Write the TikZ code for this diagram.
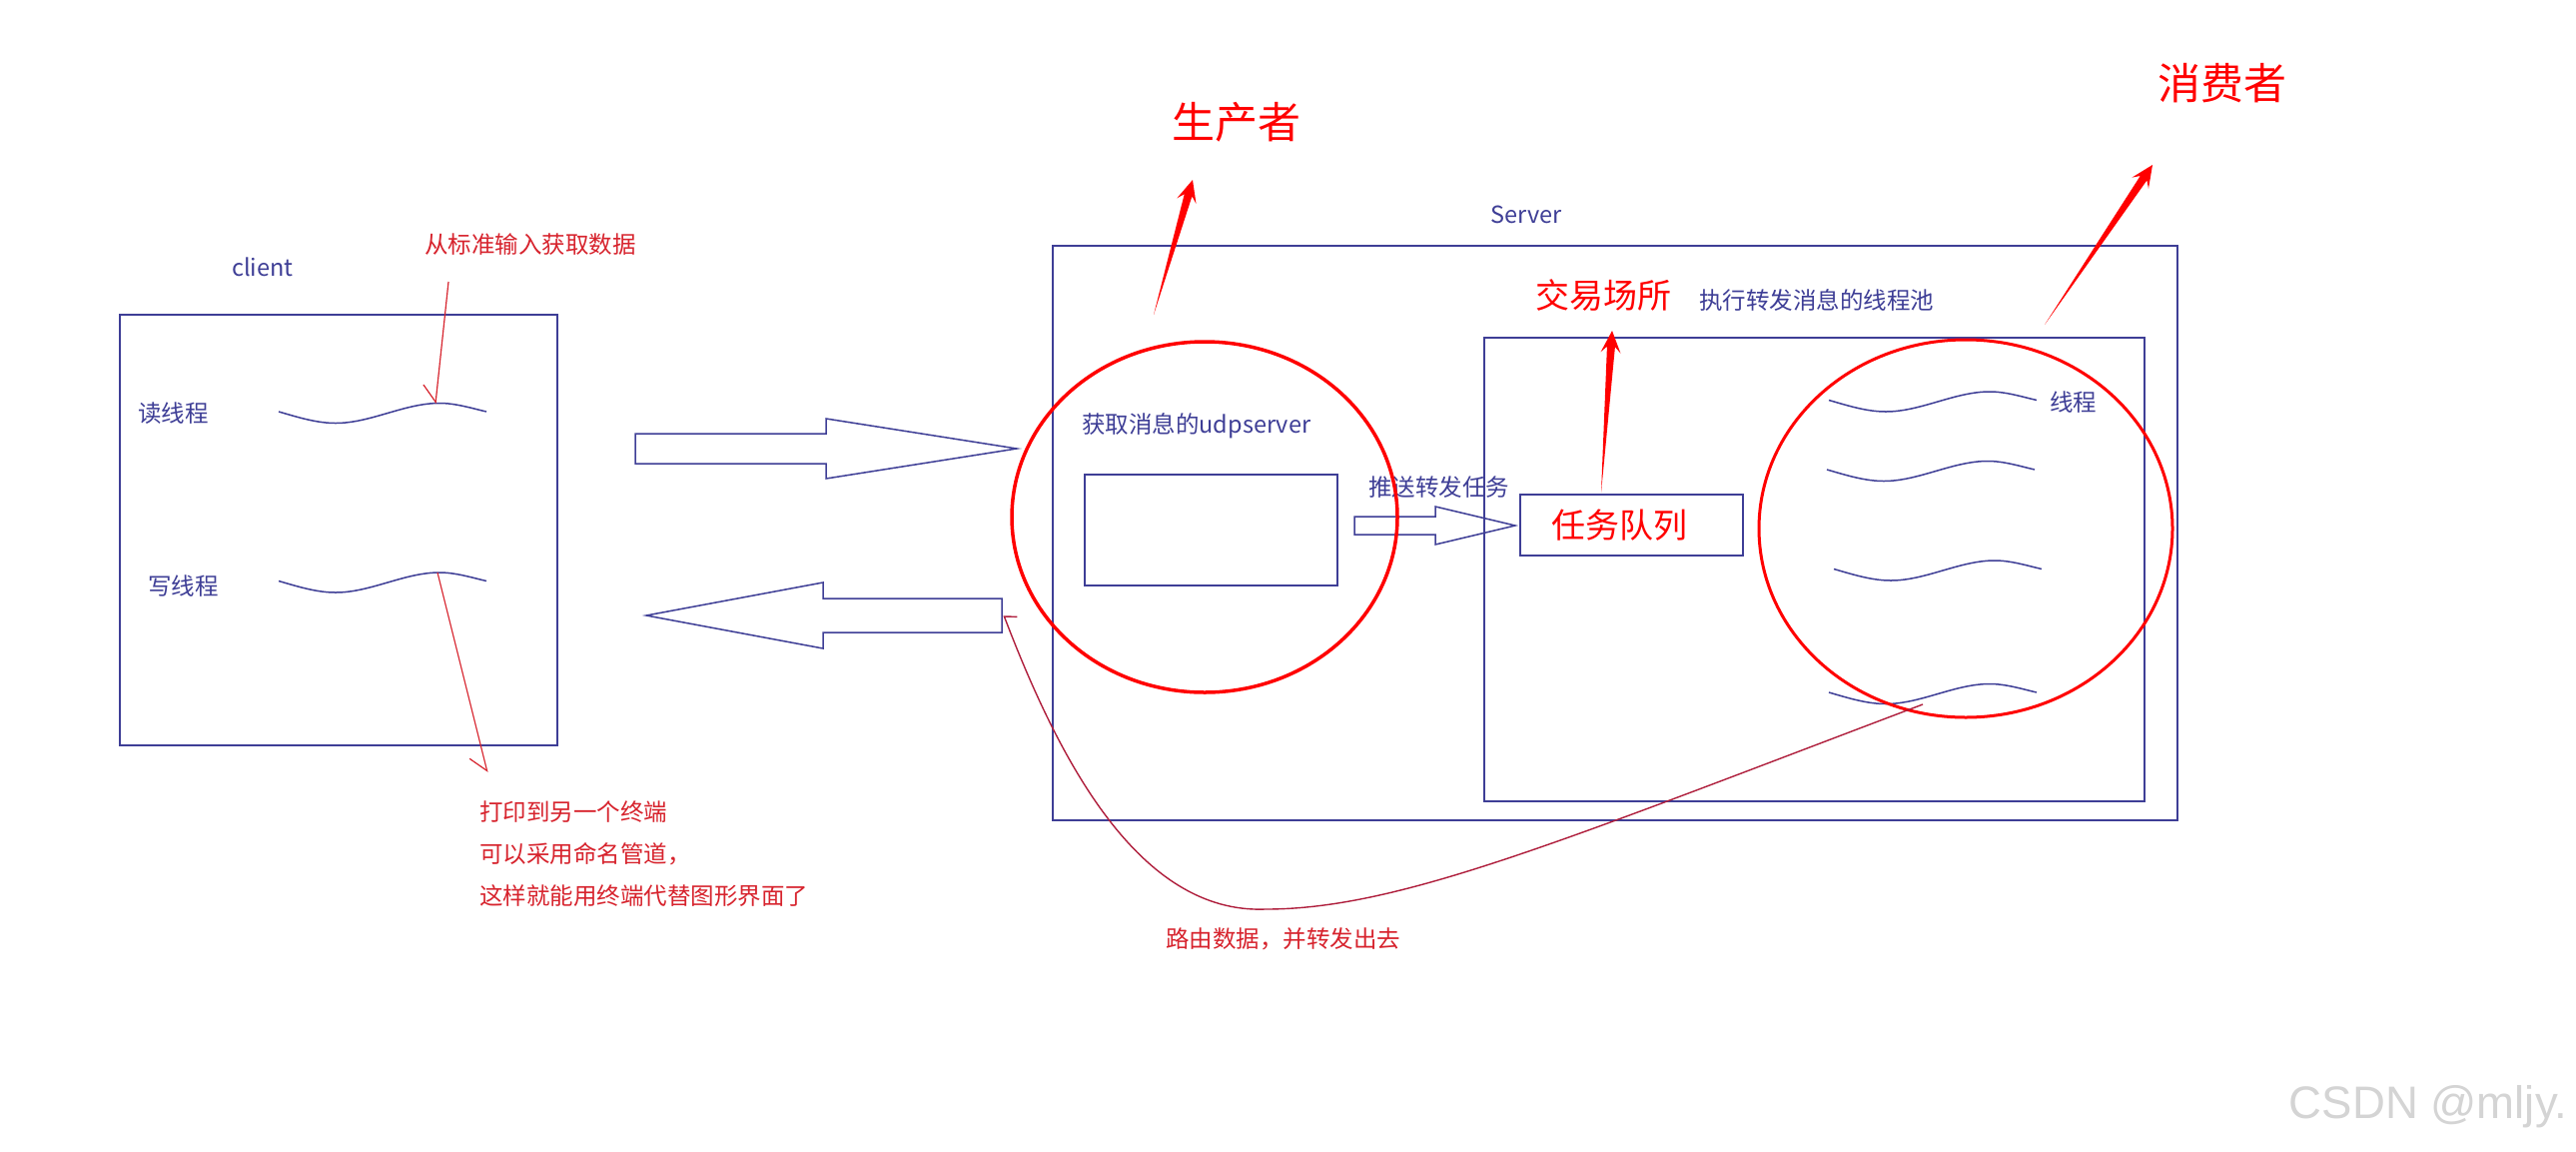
\documentclass[tikz,border=0pt]{standalone}
\usepackage{fontspec}
\setmainfont{Noto Sans CJK SC}
\newfontfamily\wmfont{Liberation Sans}
\usetikzlibrary{calc,arrows.meta,shapes.geometric}
\definecolor{bl}{RGB}{62,62,150}
\definecolor{rd}{RGB}{215,35,45}
\definecolor{rt}{RGB}{175,30,60}
\definecolor{wm}{RGB}{212,212,212}
\newcommand\myfs[1]{\fontsize{#1}{#1}\selectfont}
\newcommand\mywave[2]{\draw[wave] ({#1},{#2-1.5}) .. controls ({#1+19},{#2+4}) and ({#1+38},{#2+10}) .. ({#1+57},{#2+10})
   .. controls ({#1+92},{#2+10}) and ({#1+126},{#2-10}) .. ({#1+161},{#2-10})
   .. controls ({#1+177},{#2-10}) and ({#1+193},{#2-5}) .. ({#1+208},{#2-1.5});}
\newcommand\taper[2]{%
  \path ($(#2)!22pt!(#1)$) coordinate (hb) ($(#2)!16pt!(#1)$) coordinate (hn);
  \fill[red] (#1) -- ($(hn)!4pt!90:(#2)$) -- ($(hb)!10pt!90:(#2)$) -- (#2)
    -- ($(hb)!10pt!-90:(#2)$) -- ($(hn)!4pt!-90:(#2)$) -- cycle;}
\tikzset{
  box/.style={draw=bl, line width=1.5pt, inner sep=0pt, outer sep=0pt},
  bt/.style={text=bl, font=\myfs{23.5}, inner sep=0pt},
  rtx/.style={text=rd, font=\myfs{23.5}, inner sep=0pt},
  big/.style={text=red, font=\myfs{43}, inner sep=0pt},
  mid/.style={text=red, font=\myfs{34}, inner sep=0pt},
  wave/.style={draw=bl, line width=1.5pt},
  fat/.style={draw=bl, line width=1.5pt, fill=white, line join=miter},
  ring/.style={draw=red, ellipse, inner sep=0pt, outer sep=0pt},
  note/.style={draw=rd, line width=1.2pt},
  route/.style={draw=rt, line width=1.4pt}
}
\begin{document}
\begin{tikzpicture}[x=1pt,y=-1pt]
\useasboundingbox (0,0) rectangle (2579,1152);
\fill[white] (0,0) rectangle (2579,1152);

% client side
\node[bt] (clientlbl) at (263,267) {client};
\node[box, minimum width=438pt, minimum height=431pt] (client) at (339,530.5) {};
\node[bt, anchor=west] (readlbl) at (138,414) {读线程};
\node[bt, anchor=west] (writelbl) at (148,587) {写线程};
\mywave{279}{413.5}
\mywave{279}{583}
\node[rtx, anchor=west] (stdinlbl) at (425,245) {从标准输入获取数据};
\node[rtx, anchor=west, align=left, font=\fontsize{23.5}{42}\selectfont] (printlbl) at (480,855)
  {打印到另一个终端\\可以采用命名管道，\\这样就能用终端代替图形界面了};
\coordinate (rdS) at (449,282); \coordinate (rdT) at (436,404);
\coordinate (wrS) at (438,573); \coordinate (wrT) at (488,773);
\draw[note, -{Straight Barb[length=16pt,width=28pt,right]}] (rdS) -- (rdT);
\draw[note, -{Straight Barb[length=16pt,width=28pt,right]}] (wrS) -- (wrT);

% big hollow arrows
\draw[fat] (636,434) -- (827,434) -- (827,419) -- (1018,449) -- (827,479) -- (827,464) -- (636,464) -- cycle;
\draw[fat] (1003,599) -- (824,599) -- (824,583) -- (647,616) -- (824,649) -- (824,633) -- (1003,633) -- cycle;

% server
\node[bt] (serverlbl) at (1528,215) {Server};
\node[box, minimum width=1126pt, minimum height=575pt] (server) at (1617,533.5) {};
\node[bt, anchor=west] (udplbl) at (1083,426) {获取消息的udpserver};
\node[box, minimum width=253pt, minimum height=111pt] (udp) at (1212.5,530.5) {};
\node[bt, anchor=west] (pushlbl) at (1370,488) {推送转发任务};
\draw[fat] (1356,517) -- (1437,517) -- (1437,507) -- (1517,526) -- (1437,545) -- (1437,535) -- (1356,535) -- cycle;
\node[box, minimum width=661pt, minimum height=464pt] (pool) at (1816.5,570) {};
\node[box, minimum width=223pt, minimum height=61pt] (queue) at (1633.5,525.5) {};
\node[mid] (queuelbl) at (1621.5,526) {任务队列};
\node[mid, anchor=west] (marketlbl) at (1537,296) {交易场所};
\node[bt, anchor=west] (poollbl) at (1701,300) {执行转发消息的线程池};
\node[bt, anchor=west] (threadlbl) at (2052,403) {线程};
\mywave{1831}{402}
\mywave{1829}{471.5}
\mywave{1836}{571}
\mywave{1831}{694.5}

% rings
\node[ring, line width=3.5pt, minimum width=386pt, minimum height=351pt] (prodring) at (1206,517.5) {};
\node[ring, line width=3pt, minimum width=414pt, minimum height=378pt] (consring) at (1968,529) {};

% titles and tapered arrows
\node[big] (prodlbl) at (1237.5,122) {生产者};
\node[big] (conslbl) at (2225,83) {消费者};
\coordinate (pS) at (1155,315); \coordinate (pT) at (1194,180);
\coordinate (mS) at (1603,493); \coordinate (mT) at (1614,331);
\coordinate (cS) at (2047,325); \coordinate (cT) at (2155,165);
\taper{pS}{pT}
\taper{mS}{mT}
\taper{cS}{cT}

% route curve
\coordinate (rtS) at (1925,705); \coordinate (rtT) at (1005,616);
\draw[route, -{Straight Barb[length=5pt,width=24pt,right]}] (rtS) .. controls (1560,843) and (1400,910) .. (1267,910)
  .. controls (1140,915) and (1060,760) .. (rtT);
\node[rtx, anchor=west] (routelbl) at (1167,940) {路由数据，并转发出去};

% watermark
\node[text=wm, font=\wmfont\myfs{45.6}, inner sep=0pt] (wmark) at (2431,1108) {CSDN @mljy.};
\end{tikzpicture}
\end{document}
